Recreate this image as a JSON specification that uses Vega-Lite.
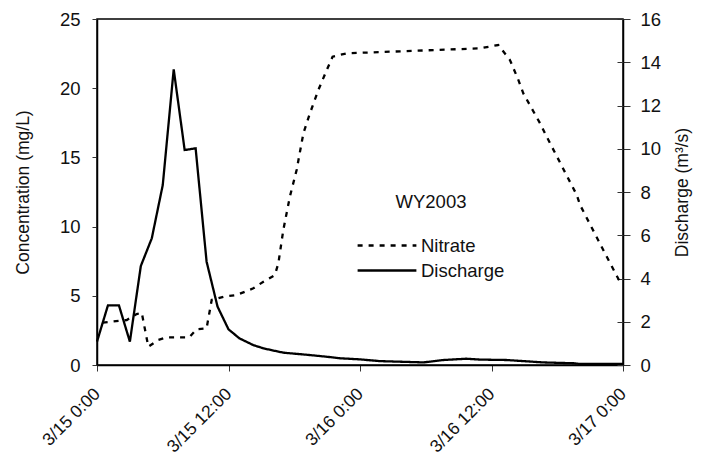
{
  "$schema": "https://vega.github.io/schema/vega-lite/v6.json",
  "width": 526,
  "height": 346,
  "autosize": "none",
  "padding": {"left": 97, "top": 19, "right": 81, "bottom": 94},
  "background": "white",
  "config": {
    "font": "Liberation Sans",
    "view": {"stroke": "black", "strokeWidth": 1.5},
    "axis": {
      "grid": false,
      "labelFont": "Liberation Sans",
      "labelFontSize": 18.5,
      "labelColor": "#111111",
      "titleFont": "Liberation Sans",
      "titleFontSize": 17.5,
      "titleFontWeight": "normal",
      "titleColor": "#111111",
      "domainColor": "black",
      "domainWidth": 1.5,
      "tickColor": "#333333",
      "tickWidth": 1
    },
    "legend": {
      "labelFont": "Liberation Sans",
      "labelFontSize": 18.5,
      "labelColor": "#111111",
      "titleFont": "Liberation Sans",
      "titleFontSize": 18.5,
      "titleFontWeight": "normal",
      "titleColor": "#111111"
    }
  },
  "datasets": {
    "nitrate": [
      {"time": "2003-03-15T00:31", "conc": 3.06},
      {"time": "2003-03-15T02:43", "conc": 3.25},
      {"time": "2003-03-15T03:37", "conc": 3.68},
      {"time": "2003-03-15T04:05", "conc": 3.78},
      {"time": "2003-03-15T04:41", "conc": 1.32},
      {"time": "2003-03-15T05:35", "conc": 1.81},
      {"time": "2003-03-15T06:22", "conc": 2.0},
      {"time": "2003-03-15T08:25", "conc": 2.0},
      {"time": "2003-03-15T09:05", "conc": 2.58},
      {"time": "2003-03-15T10:00", "conc": 2.65},
      {"time": "2003-03-15T10:28", "conc": 4.7},
      {"time": "2003-03-15T11:32", "conc": 4.93},
      {"time": "2003-03-15T12:45", "conc": 5.06},
      {"time": "2003-03-15T14:16", "conc": 5.54},
      {"time": "2003-03-15T15:11", "conc": 6.02},
      {"time": "2003-03-15T16:14", "conc": 6.5},
      {"time": "2003-03-15T16:33", "conc": 7.35},
      {"time": "2003-03-15T17:00", "conc": 9.75},
      {"time": "2003-03-15T17:36", "conc": 12.16},
      {"time": "2003-03-15T18:13", "conc": 14.09},
      {"time": "2003-03-15T18:50", "conc": 16.74},
      {"time": "2003-03-15T19:26", "conc": 18.19},
      {"time": "2003-03-15T20:12", "conc": 19.87},
      {"time": "2003-03-15T20:58", "conc": 21.31},
      {"time": "2003-03-15T21:30", "conc": 22.28},
      {"time": "2003-03-15T22:47", "conc": 22.52},
      {"time": "2003-03-16T10:57", "conc": 22.88},
      {"time": "2003-03-16T12:37", "conc": 23.12},
      {"time": "2003-03-16T13:41", "conc": 22.04},
      {"time": "2003-03-16T14:27", "conc": 20.6},
      {"time": "2003-03-16T14:54", "conc": 19.63},
      {"time": "2003-03-16T16:26", "conc": 17.46},
      {"time": "2003-03-16T17:02", "conc": 16.5},
      {"time": "2003-03-16T19:47", "conc": 12.28},
      {"time": "2003-03-16T20:05", "conc": 11.56},
      {"time": "2003-03-16T22:12", "conc": 8.31},
      {"time": "2003-03-16T23:52", "conc": 5.78}
    ],
    "discharge": [
      {"time": "2003-03-15T00:00", "q": 1.08},
      {"time": "2003-03-15T01:00", "q": 2.76},
      {"time": "2003-03-15T02:00", "q": 2.76},
      {"time": "2003-03-15T03:00", "q": 1.08},
      {"time": "2003-03-15T04:00", "q": 4.58},
      {"time": "2003-03-15T05:00", "q": 5.86},
      {"time": "2003-03-15T06:00", "q": 8.32},
      {"time": "2003-03-15T07:00", "q": 13.67},
      {"time": "2003-03-15T08:00", "q": 9.94},
      {"time": "2003-03-15T09:00", "q": 10.02},
      {"time": "2003-03-15T10:00", "q": 4.78},
      {"time": "2003-03-15T11:00", "q": 2.7},
      {"time": "2003-03-15T12:00", "q": 1.65},
      {"time": "2003-03-15T13:00", "q": 1.23},
      {"time": "2003-03-15T14:16", "q": 0.92},
      {"time": "2003-03-15T15:11", "q": 0.77},
      {"time": "2003-03-15T17:00", "q": 0.57},
      {"time": "2003-03-15T19:26", "q": 0.46},
      {"time": "2003-03-15T21:00", "q": 0.38},
      {"time": "2003-03-15T22:12", "q": 0.31},
      {"time": "2003-03-16T00:00", "q": 0.26},
      {"time": "2003-03-16T01:48", "q": 0.18},
      {"time": "2003-03-16T05:48", "q": 0.12},
      {"time": "2003-03-16T07:36", "q": 0.23},
      {"time": "2003-03-16T09:42", "q": 0.29},
      {"time": "2003-03-16T11:00", "q": 0.25},
      {"time": "2003-03-16T13:24", "q": 0.23},
      {"time": "2003-03-16T16:42", "q": 0.12},
      {"time": "2003-03-16T19:30", "q": 0.08},
      {"time": "2003-03-16T20:00", "q": 0.05},
      {"time": "2003-03-17T00:00", "q": 0.05}
    ]
  },
  "encoding": {
    "x": {
      "field": "time",
      "type": "temporal",
      "scale": {
        "domain": [
          {"year": 2003, "month": 3, "date": 15, "hours": 0},
          {"year": 2003, "month": 3, "date": 17, "hours": 0}
        ]
      },
      "axis": {
        "title": null,
        "values": [
          {"year": 2003, "month": 3, "date": 15, "hours": 0},
          {"year": 2003, "month": 3, "date": 15, "hours": 12},
          {"year": 2003, "month": 3, "date": 16, "hours": 0},
          {"year": 2003, "month": 3, "date": 16, "hours": 12},
          {"year": 2003, "month": 3, "date": 17, "hours": 0}
        ],
        "format": "%-m/%-d %-H:%M",
        "labelAngle": -45,
        "labelAlign": "right",
        "labelBaseline": "middle",
        "labelFontSize": 17.5,
        "labelPadding": 20,
        "tickSize": 6,
        "labelFlush": false,
        "labelOverlap": false
      }
    }
  },
  "layer": [
    {
      "data": {"name": "nitrate"},
      "mark": {"type": "line", "color": "black", "strokeWidth": 2.3},
      "encoding": {
        "y": {
          "field": "conc",
          "type": "quantitative",
          "scale": {"domain": [0, 25], "nice": false},
          "axis": {
            "orient": "left",
            "title": "Concentration (mg/L)",
            "values": [0, 5, 10, 15, 20, 25],
            "tickSize": 5,
            "labelPadding": 12,
            "titlePadding": 27
          }
        },
        "strokeDash": {
          "datum": "Nitrate",
          "scale": {"domain": ["Nitrate", "Discharge"], "range": [[5, 6], [1, 0]]},
          "legend": {
            "title": "WY2003",
            "orient": "none",
            "legendX": 260,
            "legendY": 174,
            "titleAnchor": "middle",
            "titlePadding": 23,
            "symbolType": "M-3,0H3",
            "symbolSize": 384,
            "symbolOffset": 19,
            "symbolStrokeWidth": 2.3,
            "symbolStrokeColor": "black",
            "rowPadding": 4,
            "labelOffset": 23
          }
        }
      }
    },
    {
      "data": {"name": "discharge"},
      "mark": {"type": "line", "color": "black", "strokeWidth": 2.3},
      "encoding": {
        "y": {
          "field": "q",
          "type": "quantitative",
          "scale": {"domain": [0, 16], "nice": false},
          "axis": {
            "orient": "right",
            "title": "Discharge (m³/s)",
            "titleAngle": -90,
            "values": [0, 2, 4, 6, 8, 10, 12, 14, 16],
            "tickSize": 7,
            "labelPadding": 10,
            "titlePadding": 31
          }
        },
        "strokeDash": {"datum": "Discharge"}
      }
    },
    {
      "data": {"name": "discharge"},
      "mark": {"type": "line", "strokeOpacity": 0},
      "encoding": {
        "y": {
          "field": "q",
          "type": "quantitative",
          "scale": {"domain": [0, 16], "nice": false},
          "axis": {
            "orient": "right",
            "title": null,
            "labels": false,
            "domain": false,
            "values": [0, 2, 4, 6, 8, 10, 12, 14, 16],
            "tickSize": -6,
            "offset": 0
          }
        }
      }
    }
  ],
  "resolve": {"scale": {"y": "independent"}}
}
